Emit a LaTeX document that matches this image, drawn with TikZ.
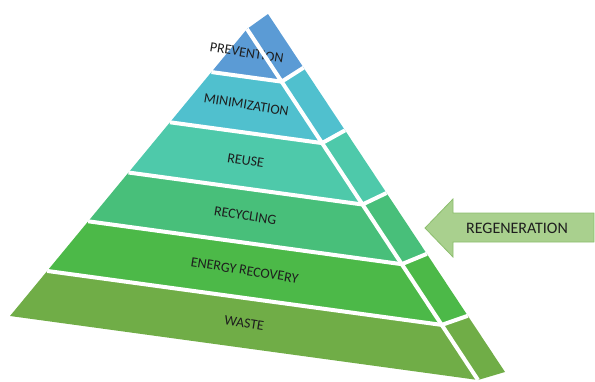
\documentclass[tikz,border=0pt]{standalone}
\usepackage{fontspec}
\setmainfont{Carlito}
\usepackage{xcolor}
\definecolor{prevblue}{RGB}{91,155,213}
\definecolor{minicyan}{RGB}{80,192,206}
\definecolor{reuseteal}{RGB}{78,201,170}
\definecolor{recygreen}{RGB}{72,191,122}
\definecolor{energygreen}{RGB}{76,185,72}
\definecolor{wasteolive}{RGB}{112,173,71}
\definecolor{regenfill}{RGB}{169,208,142}
\definecolor{regendraw}{RGB}{140,190,110}
\definecolor{darktext}{RGB}{30,30,30}
\usetikzlibrary{calc}

\begin{document}
\begin{tikzpicture}[x=1pt, y=-1pt,
        gap/.style={draw=white, line width=4pt},
        lvlabel/.style={text=darktext, rotate=-9, inner sep=0pt, font=\fontsize{14}{16}\selectfont},
        arrowlabel/.style={text=darktext, inner sep=0pt, font=\fontsize{16}{18}\selectfont}]
        \useasboundingbox (0,0) rectangle (595,381);

        % Pyramid corners: front face and the outer edge of the side strip
        \coordinate (apex) at (247,29);
        \coordinate (bl) at (10,316);
        \coordinate (br) at (478,380);
        \coordinate (stop) at (268,14);
        \coordinate (sbot) at (505,372);

        % Layers (top to bottom), front face + side strip
        \foreach \ta/\tb/\tm/\col/\name/\lbl in {
                0/0.15/0.075/prevblue/prevention/PREVENTION,
                0.15/0.325/0.2375/minicyan/minimization/MINIMIZATION,
                0.325/0.5/0.4125/reuseteal/reuse/REUSE,
                0.5/0.67/0.585/recygreen/recycling/RECYCLING,
                0.67/0.843/0.7565/energygreen/energy/ENERGY RECOVERY,
                0.843/1/0.9215/wasteolive/waste/WASTE} {
            \fill[\col] ($(apex)!\ta!(bl)$) -- ($(apex)!\ta!(br)$) -- ($(apex)!\tb!(br)$) -- ($(apex)!\tb!(bl)$) -- cycle;
            \fill[\col] ($(apex)!\ta!(br)$) -- ($(stop)!\ta!(sbot)$) -- ($(stop)!\tb!(sbot)$) -- ($(apex)!\tb!(br)$) -- cycle;
            \coordinate (ml) at ($(apex)!\tm!(bl)$);
            \coordinate (mr) at ($(apex)!\tm!(br)$);
            \node[lvlabel] (\name) at ($(ml)!0.5!(mr)$) {\lbl};
        }

        % White gaps between the blocks
        \draw[gap] (apex) -- (br);
        \foreach \t in {0.15, 0.325, 0.5, 0.67, 0.843}
            \draw[gap] ($(apex)!\t!(bl)$) -- ($(apex)!\t!(br)$) -- ($(stop)!\t!(sbot)$);

        % Regeneration arrow
        \path[fill=regenfill, draw=regendraw, line width=0.8pt]
            (594,213) -- (453,213) -- (453,199) -- (425,228) -- (453,257) -- (453,242) -- (594,242) -- cycle;
        \node[arrowlabel] (regen) at (517,228) {REGENERATION};
    \end{tikzpicture}
\end{document}
